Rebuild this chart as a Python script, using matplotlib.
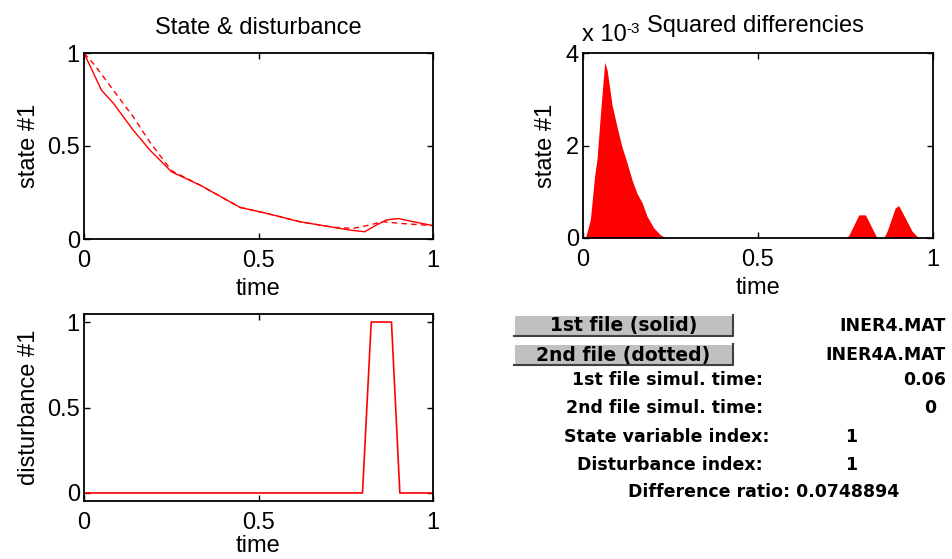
import numpy as np
import matplotlib
matplotlib.use("Agg")
import matplotlib.pyplot as plt
from matplotlib.patches import Rectangle
from matplotlib.lines import Line2D

# state #1, first file (solid)
t_solid = [0, 0.05, 0.084, 0.141, 0.189, 0.251, 0.332, 0.447, 0.523, 0.618,
           0.714, 0.761, 0.804, 0.838, 0.866, 0.90, 0.943, 1.0]
x_solid = [1.0, 0.80, 0.73, 0.585, 0.478, 0.361, 0.29, 0.17, 0.138, 0.093,
           0.063, 0.048, 0.039, 0.075, 0.102, 0.11, 0.093, 0.072]
# state #1, second file (dotted)
t_dash = [0, 0.031, 0.084, 0.141, 0.189, 0.251, 0.332, 0.447, 0.523, 0.618,
          0.714, 0.771, 0.81, 0.857, 0.905, 1.0]
x_dash = [1.0, 0.934, 0.80, 0.657, 0.52, 0.367, 0.29, 0.17, 0.138, 0.093,
          0.063, 0.057, 0.072, 0.093, 0.084, 0.072]

# disturbance #1
t_dist = [0, 0.798, 0.823, 0.881, 0.905, 1.0]
d_dist = [0, 0, 1, 1, 0, 0]

# squared differences (x 1e-3)
t_sq = [0, 0.007, 0.021, 0.033, 0.040, 0.050, 0.062, 0.069, 0.083, 0.097,
        0.111, 0.126, 0.140, 0.154, 0.169, 0.183, 0.202, 0.221, 0.237,
        0.748, 0.759, 0.788, 0.807, 0.840,
        0.859, 0.869, 0.892, 0.902, 0.916, 0.940, 0.959, 1.0]
sq = [0, 0, 0.4, 1.33, 1.7, 2.7, 3.8, 3.63, 2.88, 2.41,
      1.98, 1.62, 1.26, 0.97, 0.76, 0.47, 0.22, 0.07, 0,
      0, 0.05, 0.5, 0.5, 0,
      0, 0.15, 0.65, 0.7, 0.5, 0.15, 0, 0]

info_labels = ["1st file simul. time:", "2nd file simul. time:",
               "State variable index:", "Disturbance index:"]
info_values = ["0.06", "0", "1", "1"]
file_names = ["INER4.MAT", "INER4A.MAT"]
button_labels = ["1st file (solid)", "2nd file (dotted)"]
diff_ratio = 0.0748894

plt.rcParams["font.family"] = ["Liberation Sans", "DejaVu Sans"]
W, H = 952, 559
fig = plt.figure(figsize=(W / 100, H / 100), dpi=100)
FS = 17


def px_axes(l, t, r, b):
    return fig.add_axes([l / W, 1 - b / H, (r - l) / W, (b - t) / H])


def style(ax, xpad=4):
    ax.tick_params(direction="in", length=4, width=1, top=True, right=True,
                   labelsize=FS, colors="black")
    ax.tick_params(axis="x", pad=8)
    ax.tick_params(axis="y", pad=3)
    for s in ax.spines.values():
        s.set_linewidth(1.3)
    ax.set_xlim(0, 1)
    ax.set_xticks([0, 0.5, 1])
    ax.set_xticklabels(["0", "0.5", "1"])
    ax.set_xlabel("time", fontsize=FS, labelpad=xpad)


red = "#ff0000"

ax1 = px_axes(84, 53, 433, 239)
ax1.plot(t_solid, x_solid, color=red, lw=1)
ax1.plot(t_dash, x_dash, color=red, lw=1, ls=(0, (4, 3)))
ax1.set_ylim(0, 1)
ax1.set_yticks([0, 0.5, 1])
ax1.set_yticklabels(["0", "0.5", "1"])
style(ax1)
ax1.set_ylabel("state #1", fontsize=FS, labelpad=5)
ax1.set_title("State & disturbance", fontsize=FS, pad=14)

ax2 = px_axes(583, 53, 933, 238)
ax2.fill_between(t_sq, sq, 0, color=red, lw=0)
ax2.set_ylim(0, 4)
ax2.set_yticks([0, 2, 4])
ax2.set_yticklabels(["0", "2", "4"])
style(ax2)
ax2.set_ylabel("state #1", fontsize=FS, labelpad=6)
fig.text(647 / W, 1 - 26 / H, "Squared differencies", fontsize=FS,
         ha="left", va="center")
fig.text(582 / W, 1 - 35 / H, "x 10", fontsize=FS, va="center", ha="left")
fig.text(626 / W, 1 - 29 / H, "-3", fontsize=11, va="center", ha="left")

ax3 = px_axes(84, 314, 433, 501)
ax3.plot(t_dist, d_dist, color=red, lw=1.2)
ax3.set_ylim(-0.047, 1.047)
ax3.set_yticks([0, 0.5, 1])
ax3.set_yticklabels(["0", "0.5", "1"])
style(ax3, xpad=1)
ax3.set_ylabel("disturbance #1", fontsize=FS, labelpad=5)

# control panel
bold = dict(fontsize=12.5, fontweight="bold", family="DejaVu Sans", color="black")
for i, lab in enumerate(button_labels):
    top = 315 + i * 29
    l, r, b = 514, 733, top + 21
    fig.patches.append(Rectangle((l / W, 1 - b / H), (r - l) / W, (b - top) / H,
                                 transform=fig.transFigure, facecolor="#c0c0c0",
                                 edgecolor="none"))
    fig.lines.append(Line2D([l / W, l / W, r / W], [1 - b / H, 1 - top / H, 1 - top / H],
                            transform=fig.transFigure, color="white", lw=1.5))
    fig.lines.append(Line2D([l / W, r / W, r / W], [1 - b / H, 1 - b / H, 1 - top / H],
                            transform=fig.transFigure, color="#404040", lw=1.5))
    fig.text((l + r) / 2 / W, 1 - (top + 11) / H, lab, ha="center", va="center",
             **{**bold, "fontsize": 13.5})
    fig.text(946 / W, 1 - (top + 11) / H, file_names[i], ha="right", va="center", **bold)

rows_y = [380, 408, 437, 465]
label_right = [763, 763, 770, 763]
value_x = [946, 936, 851, 851]
for i in range(4):
    fig.text(label_right[i] / W, 1 - rows_y[i] / H, info_labels[i], ha="right",
             va="center", **bold)
    ha = "right" if i < 2 else "center"
    fig.text(value_x[i] / W, 1 - rows_y[i] / H, info_values[i], ha=ha,
             va="center", **bold)

fig.text(628 / W, 1 - 492 / H, "Difference ratio: %g" % diff_ratio, ha="left",
         va="center", **bold)

fig.savefig("out.png", dpi=100)
